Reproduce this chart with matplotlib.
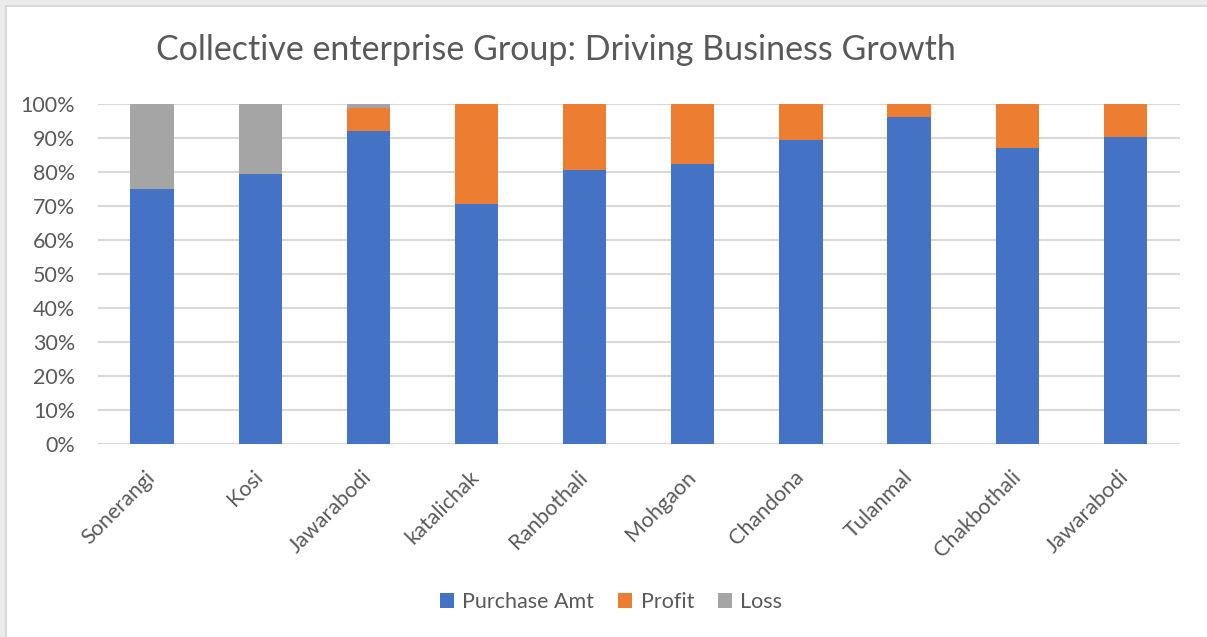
import numpy as np
import matplotlib.pyplot as plt
from matplotlib.patches import Rectangle
from matplotlib.ticker import PercentFormatter

plt.rcParams['font.family'] = ['Lato', 'DejaVu Sans']

# data (shares of 100%)
villages = ['Sonerangi', 'Kosi', 'Jawarabodi', 'katalichak', 'Ranbothali',
            'Mohgaon', 'Chandona', 'Tulanmal', 'Chakbothali', 'Jawarabodi']
purchase = [74.9, 79.5, 92.1, 70.4, 80.7, 82.3, 89.3, 96.3, 87.1, 90.4]
profit = [0.0, 0.0, 6.8, 29.6, 19.3, 17.7, 10.7, 3.7, 12.9, 9.6]
loss = [25.1, 20.5, 1.1, 0.0, 0.0, 0.0, 0.0, 0.0, 0.0, 0.0]

blue = '#4472C4'
orange = '#ED7D31'
grey = '#A5A5A5'
txt = '#595959'
grid = '#D9D9D9'

W, H = 1207, 637
fig = plt.figure(figsize=(W / 100, H / 100), dpi=100)
fig.patch.set_facecolor('#EBEBEB')
# white chart area with thin border
fig.patches.append(Rectangle((5.5 / W, -0.01), 1.02, (H - 5.5) / H + 0.01,
                             transform=fig.transFigure, facecolor='white',
                             edgecolor=grid, linewidth=1.5, zorder=-10))

ax = fig.add_axes([98 / W, (H - 443.5) / H, (1179.5 - 98) / W, (443.5 - 104) / H])
ax.set_facecolor('none')

x = np.arange(len(villages))
tot = np.array(purchase) + np.array(profit) + np.array(loss)
p1 = np.array(purchase) / tot * 100
p2 = np.array(profit) / tot * 100
p3 = np.array(loss) / tot * 100

w = 0.4
ax.bar(x, p1, w, color=blue, label='Purchase Amt', zorder=3)
ax.bar(x, p2, w, bottom=p1, color=orange, label='Profit', zorder=3)
ax.bar(x, p3, w, bottom=p1 + p2, color=grey, label='Loss', zorder=3)

ax.set_xlim(-0.5, len(villages) - 0.5)
ax.set_ylim(0, 100)
ax.set_yticks(np.arange(0, 101, 10))
ax.yaxis.set_major_formatter(PercentFormatter(decimals=0))
ax.yaxis.grid(True, color=grid, linewidth=1.5, zorder=0)
ax.set_axisbelow(True)
for s in ax.spines.values():
    s.set_visible(False)
ax.tick_params(length=0, labelsize=15.5, colors=txt)
ax.tick_params(axis='y', pad=16.5)
ax.set_xticks(x)
ax.set_xticklabels(villages, rotation=45, ha='right', va='center',
                   rotation_mode='anchor')
ax.tick_params(axis='x', pad=22)

fig.text(556 / W, 1 - 50 / H, 'Collective enterprise Group: Driving Business Growth',
         ha='center', va='center', fontsize=24.5, color=txt)

fig.legend(loc='center', bbox_to_anchor=(611 / W, 1 - 602 / H), ncol=3,
           frameon=False, fontsize=15.5, labelcolor=txt, handlelength=0.65,
           handleheight=0.65, handletextpad=0.4, columnspacing=1.1)

plt.savefig('out.png', dpi=100)
